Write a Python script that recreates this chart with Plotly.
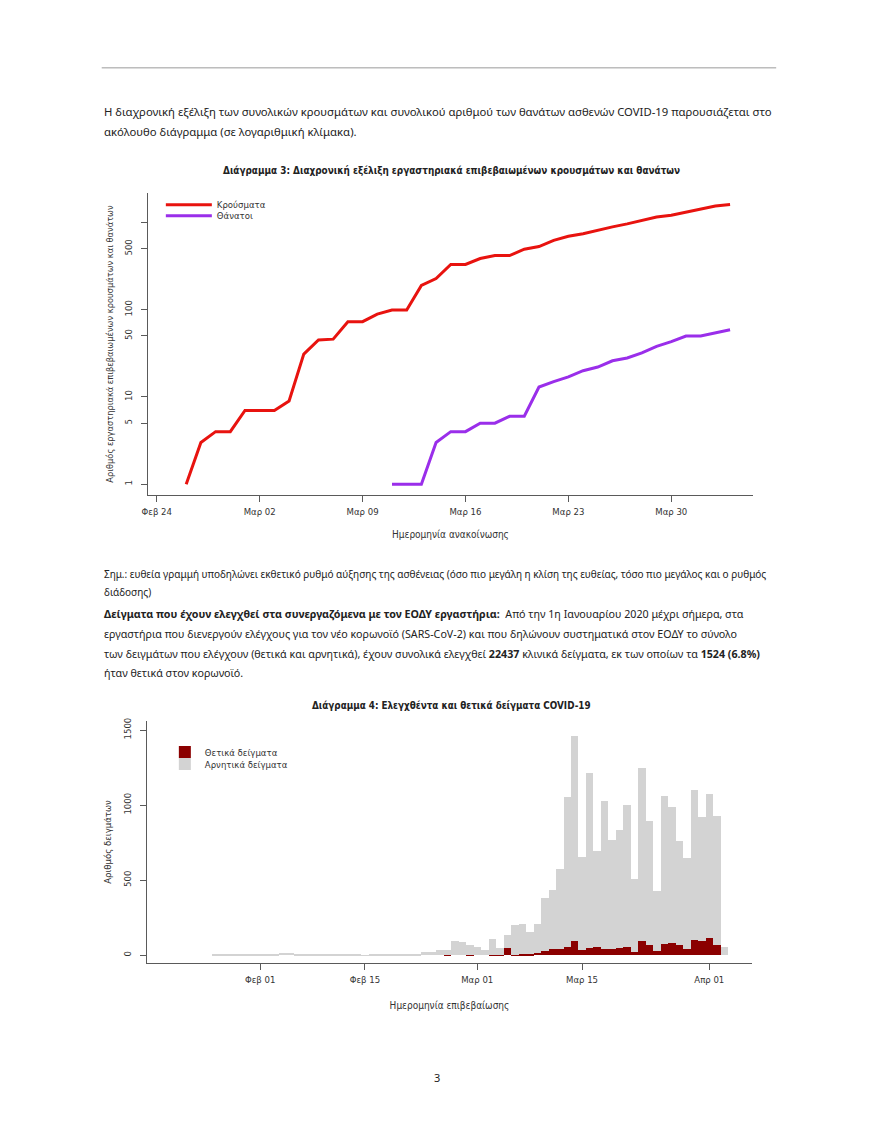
import pandas as pd
import plotly.graph_objects as go

W, H = 880, 1139
# page coordinates (measured on the reference) -> paper fractions,
# with a small correction for the offset/scale observed in the photographed page
def px(x): return ((x - 7.5) / 0.991) / W
def py(y): return 1 - ((y - 3.3) / 0.995) / H

# ---------------- Chart 3 data (cumulative, log scale) ----------------
case_start, case_end = "2020-02-26", "2020-04-03"
cases = [1, 3, 4, 4,
         7, 7, 7, 9, 31, 45, 46, 73, 73, 89, 99, 99, 190, 228, 331, 331,
         387, 418, 418, 495, 530, 624, 695, 743, 821, 892, 966, 1061, 1156,
         1212, 1314, 1415, 1544, 1613]
death_start, death_end = "2020-03-11", "2020-04-03"
deaths = [1, 1, 1, 3, 4, 4, 5, 5, 6, 6, 13, 15, 17, 20, 22, 26, 28, 32, 38,
          43, 50, 50, 54, 59]
c3_tickdates = ["2020-02-24", "2020-03-02", "2020-03-09", "2020-03-16", "2020-03-23", "2020-03-30"]
c3_ticklabels = ["Φεβ 24", "Μαρ 02", "Μαρ 09", "Μαρ 16", "Μαρ 23", "Μαρ 30"]
c3_yticks = [1, 5, 10, 50, 100, 500, 1000]
c3_ylabels = ["1", "5", "10", "50", "100", "500", ""]

# ---------------- Chart 4 data (daily samples) ----------------
test_start, test_end = "2020-01-26", "2020-04-03"
total_tests = [5, 5, 12, 10, 7, 4,
               5, 8, 12, 16, 14, 8, 7, 5, 5, 6, 6, 5, 4, 3, 2, 8, 10, 6, 9, 8, 5, 12, 20, 25, 33, 38, 96, 89, 71,
               56, 33, 107, 50, 138, 200, 207, 155, 207, 383, 434, 574, 1055, 1459, 657, 1217, 696, 1030, 768,
               834, 1001, 511, 1248, 896, 429, 1061, 990, 763, 650, 1101, 919,
               1077, 928, 55]
positive_tests = [0, 0, 0, 0, 0, 0,
                  0, 0, 0, 0, 0, 0, 0, 0, 0, 0, 0, 0, 0, 0, 0, 0, 0, 0, 0, 0, 0, 0, 0, 0, 0, 3, 0, 0, 3,
                  0, 0, 2, 2, 49, 4, 7, 11, 16, 27, 40, 45, 56, 93, 33, 49, 56, 45, 40,
                  49, 53, 22, 98, 71, 27, 76, 82, 67, 45, 105, 96,
                  116, 69, 0]
c4_tickdates = ["2020-02-01", "2020-02-15", "2020-03-01", "2020-03-15", "2020-04-01"]
c4_ticklabels = ["Φεβ 01", "Φεβ 15", "Μαρ 01", "Μαρ 15", "Απρ 01"]
c4_yticks = [0, 500, 1000, 1500]

case_dates = pd.date_range(case_start, case_end)
death_dates = pd.date_range(death_start, death_end)
test_dates = pd.date_range(test_start, test_end)
negative_tests = [t - p for t, p in zip(total_tests, positive_tests)]

CH = "Liberation Sans Narrow, DejaVu Sans Condensed, Roboto, sans-serif"
BODY = "Noto Sans, Open Sans, sans-serif"
AX = "#5a5a5a"
TXT = "#333333"

fig = go.Figure()
fig.add_trace(go.Scatter(x=case_dates, y=cases, mode="lines", name="Κρούσματα",
                         line=dict(color="#E8130F", width=3), xaxis="x", yaxis="y", legend="legend"))
fig.add_trace(go.Scatter(x=death_dates, y=deaths, mode="lines", name="Θάνατοι",
                         line=dict(color="#9A2EEA", width=3), xaxis="x", yaxis="y", legend="legend3"))
fig.add_trace(go.Bar(x=test_dates, y=positive_tests, name="Θετικά δείγματα",
                     marker=dict(color="#8B0000", line=dict(width=0)), xaxis="x2", yaxis="y2", legend="legend2"))
fig.add_trace(go.Bar(x=test_dates, y=negative_tests, name="Αρνητικά δείγματα",
                     marker=dict(color="#D3D3D3", line=dict(width=0)), xaxis="x2", yaxis="y2", legend="legend4"))

axis_common = dict(showline=True, linecolor=AX, linewidth=1, ticks="outside", ticklen=6,
                   tickcolor=AX, showgrid=False, zeroline=False,
                   tickfont=dict(family=CH, size=9.5, color=TXT))
xcommon = dict(axis_common, ticklabelstandoff=2)
ycommon = dict(axis_common, ticklabelstandoff=5)

leg_common = dict(xanchor="left", yanchor="top", bgcolor="rgba(0,0,0,0)",
                  font=dict(family=CH, size=9.5, color=TXT), borderwidth=0)

fig.update_layout(
    autosize=True,
    margin=dict(l=0, r=0, t=0, b=0, pad=0),
    paper_bgcolor="white", plot_bgcolor="white",
    showlegend=True, barmode="stack", bargap=0,
    xaxis=dict(domain=[px(149.3), px(752.7)], anchor="y", type="date",
               range=["2020-02-23 09:50", "2020-04-04 13:10"],
               tickvals=c3_tickdates, ticktext=c3_ticklabels,
               title=dict(text="Ημερομηνία ανακοίνωσης", font=dict(family=CH, size=10, color=TXT), standoff=14),
               **xcommon),
    yaxis=dict(domain=[py(494), py(193)], anchor="x", type="log",
               range=[-0.123, 3.337], tickvals=c3_yticks, ticktext=c3_ylabels, tickangle=-90,
               title=dict(text="Αριθμός εργαστηριακά επιβεβαιωμένων κρουσμάτων και θανάτων",
                          font=dict(family=CH, size=9.2, color=TXT), standoff=8),
               **ycommon),
    xaxis2=dict(domain=[px(148), px(752)], anchor="y2", type="date",
                range=["2020-01-16 20:40", "2020-04-06 17:20"],
                tickvals=c4_tickdates, ticktext=c4_ticklabels,
                title=dict(text="Ημερομηνία επιβεβαίωσης", font=dict(family=CH, size=10, color=TXT), standoff=17),
                **xcommon),
    yaxis2=dict(domain=[py(961), py(719.6)], anchor="x2",
                range=[-51, 1560], tickvals=c4_yticks, tickangle=-90,
                title=dict(text="Αριθμός δειγμάτων", font=dict(family=CH, size=9.5, color=TXT), standoff=8),
                **ycommon),
    legend=dict(x=px(162), y=py(190), itemwidth=46, **leg_common),
    legend3=dict(x=px(162), y=py(201), itemwidth=46, **leg_common),
    legend2=dict(x=px(166), y=py(736), itemwidth=30, **leg_common),
    legend4=dict(x=px(166), y=py(748), itemwidth=30, **leg_common),
)

# page rule
fig.add_shape(type="line", xref="paper", yref="paper", x0=px(103), x1=px(776), y0=py(68), y1=py(68),
              line=dict(color="#9a9a9a", width=1))

def text(x, y, s, size=11, family=BODY, anchor="left", color="#222"):
    fig.add_annotation(x=px(x), y=py(y), xref="paper", yref="paper", text=s, showarrow=False,
                       xanchor=anchor, yanchor="middle", align=anchor,
                       font=dict(family=family, size=size, color=color))

para1 = ["Η διαχρονική εξέλιξη των συνολικών κρουσμάτων και συνολικού αριθμού των θανάτων ασθενών COVID-19 παρουσιάζεται στο",
         "ακόλουθο διάγραμμα (σε λογαριθμική κλίμακα)."]
for i, s in enumerate(para1):
    text(103, 112 + 19 * i, s, size=11.3)

text(452, 170, "<b>Διάγραμμα 3: Διαχρονική εξέλιξη εργαστηριακά επιβεβαιωμένων κρουσμάτων και θανάτων</b>",
     size=9.9, family=CH, anchor="center")

note = ["Σημ.: ευθεία γραμμή υποδηλώνει εκθετικό ρυθμό αύξησης της ασθένειας (όσο πιο μεγάλη η κλίση της ευθείας, τόσο πιο μεγάλος και ο ρυθμός",
        "διάδοσης)"]
for i, s in enumerate(note):
    text(103, 573 + 18 * i, s, size=10)

para2 = ["<b>Δείγματα που έχουν ελεγχθεί στα συνεργαζόμενα με τον ΕΟΔΥ εργαστήρια:</b>  Από την 1η Ιανουαρίου 2020 μέχρι σήμερα, στα",
         "εργαστήρια που διενεργούν ελέγχους για τον νέο κορωνοϊό (SARS-CoV-2) και που δηλώνουν συστηματικά στον ΕΟΔΥ το σύνολο",
         "των δειγμάτων που ελέγχουν (θετικά και αρνητικά), έχουν συνολικά ελεγχθεί <b>22437</b> κλινικά δείγματα, εκ των οποίων τα <b>1524 (6.8%)</b>",
         "ήταν θετικά στον κορωνοϊό."]
for i, s in enumerate(para2):
    text(103, 613 + 19.7 * i, s, size=10.7)

text(452, 704, "<b>Διάγραμμα 4: Ελεγχθέντα και θετικά δείγματα COVID-19</b>", size=9.8, family=CH, anchor="center")

text(438, 1075, "3", size=11, anchor="center")

fig.write_html("out.html", config={"displayModeBar": False},
               default_width="880px; position:absolute; left:0px; top:0px",
               default_height="1139px",
               post_script="document.body.style.margin='0';")
